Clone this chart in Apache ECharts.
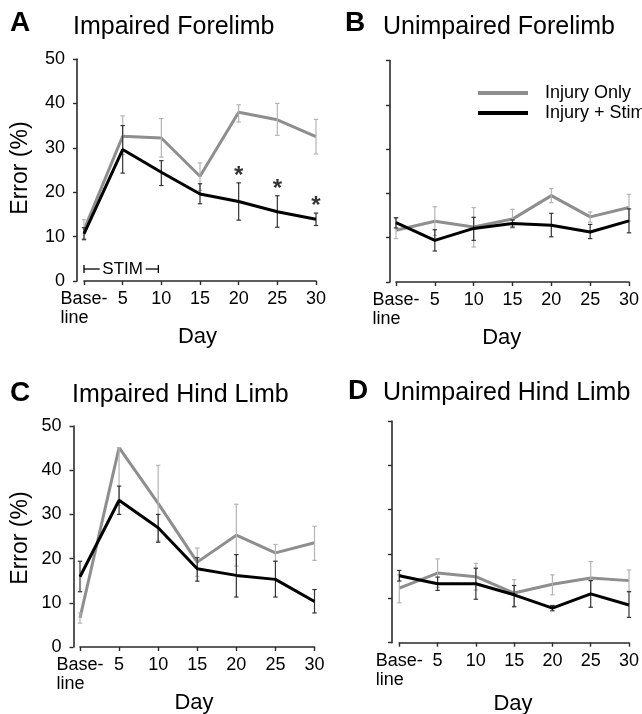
<!DOCTYPE html>
<html>
<head>
<meta charset="utf-8">
<script src="https://cdn.jsdelivr.net/npm/echarts@6/dist/echarts.min.js"></script>
<style>
  html, body { margin: 0; padding: 0; background: #fff; }
  #chart { width: 642px; height: 714px; }
</style>
</head>
<body>
<div id="chart"></div>
<script>
// ---------- data ----------
const days = ['Base-\nline', '5', '10', '15', '20', '25', '30'];
const yTicks = [0, 10, 20, 30, 40, 50];
const seriesNames = ['Injury Only', 'Injury + Stim'];

// A: Impaired Forelimb
const aOnly = [11.5, 32.6, 32.2, 23.6, 38.0, 36.3, 32.5];
const aOnlyLo = [9.6, 28.5, 27.9, 20.4, 35.8, 32.8, 28.6];
const aOnlyHi = [13.8, 37.2, 36.6, 26.6, 39.7, 40.0, 36.4];
const aStim = [10.6, 29.6, 24.5, 19.6, 17.9, 15.6, 13.9];
const aStimLo = [9.3, 24.3, 21.5, 17.4, 13.7, 12.1, 12.5];
const aStimHi = [12.0, 35.0, 27.1, 21.9, 22.1, 19.2, 15.3];
const aStars = [[4, 23.6], [5, 20.6], [6, 16.8]];

// B: Unimpaired Forelimb
const bOnly = [11.7, 13.7, 12.4, 14.2, 19.5, 14.7, 16.8];
const bOnlyLo = [9.8, 10.5, 7.9, 12.2, 17.9, 13.5, 13.8];
const bOnlyHi = [14.5, 17.0, 16.8, 16.4, 21.1, 15.8, 19.8];
const bStim = [13.4, 9.4, 12.1, 13.2, 12.8, 11.3, 13.8];
const bStimLo = [12.2, 7.0, 9.4, 12.4, 10.2, 9.8, 11.1];
const bStimHi = [14.5, 11.8, 14.6, 14.0, 15.5, 13.0, 16.5];

// C: Impaired Hind Limb
const cOnly = [6.6, 45.1, 32.5, 19.2, 25.3, 21.3, 23.6];
const cOnlyLo = [5.4, 32.0, 24.0, 16.0, 18.3, 19.4, 19.6];
const cOnlyHi = [7.7, 45.1, 41.1, 22.4, 32.3, 23.2, 27.3];
const cStim = [15.9, 33.2, 27.0, 17.7, 16.2, 15.3, 10.3];
const cStimLo = [12.5, 30.0, 23.7, 14.9, 11.3, 11.3, 7.7];
const cStimHi = [19.4, 36.4, 30.0, 20.2, 20.9, 19.4, 13.0];

// D: Unimpaired Hind Limb
const dOnly = [12.3, 15.7, 14.9, 11.2, 13.2, 14.6, 14.0];
const dOnlyLo = [9.0, 12.5, 11.9, 8.2, 10.8, 10.9, 11.6];
const dOnlyHi = [15.3, 18.9, 17.9, 14.2, 15.3, 18.3, 16.4];
const dStim = [15.1, 13.3, 13.3, 10.8, 7.8, 11.0, 8.5];
const dStimLo = [13.9, 11.8, 9.8, 8.1, 7.2, 8.0, 5.7];
const dStimHi = [16.3, 14.8, 16.8, 12.9, 8.4, 14.0, 11.5];

// STIM bracket: from category index 0 to 2 at height 2.7
const stimBracket = [[0, 2, 2.7]];

// ---------- style ----------
const FONT = "'Liberation Sans', Arial, Helvetica, sans-serif";
const GRAY = '#8e8e8e';
const GRAY_ERR = '#b4b4b4';
const BLACK = '#000000';
const BLACK_ERR = '#333333';
const AXIS = '#2a2a2a';

const panels = [
  { grid: { left: 84, top: 59, width: 232, height: 222 }, yOff: 7, yLabels: true,
    only: aOnly, onlyLo: aOnlyLo, onlyHi: aOnlyHi, stim: aStim, stimLo: aStimLo, stimHi: aStimHi },
  { grid: { left: 396, top: 60.5, width: 234.5, height: 221.5 }, yOff: 6, yLabels: false,
    only: bOnly, onlyLo: bOnlyLo, onlyHi: bOnlyHi, stim: bStim, stimLo: bStimLo, stimHi: bStimHi },
  { grid: { left: 80, top: 426, width: 234.5, height: 221 }, yOff: 6.5, yLabels: true,
    only: cOnly, onlyLo: cOnlyLo, onlyHi: cOnlyHi, stim: cStim, stimLo: cStimLo, stimHi: cStimHi },
  { grid: { left: 399.3, top: 421, width: 233.4, height: 221.7 }, yOff: 7.3, yLabels: false,
    only: dOnly, onlyLo: dOnlyLo, onlyHi: dOnlyHi, stim: dStim, stimLo: dStimLo, stimHi: dStimHi }
];

function errRender(color) {
  return function (params, api) {
    const x = api.value(0);
    const lo = api.coord([x, api.value(1)]);
    const hi = api.coord([x, api.value(2)]);
    const c = 2.2;
    const st = { stroke: color, lineWidth: 1.2 };
    return {
      type: 'group',
      children: [
        { type: 'line', shape: { x1: lo[0], y1: lo[1], x2: hi[0], y2: hi[1] }, style: st },
        { type: 'line', shape: { x1: lo[0] - c, y1: lo[1], x2: lo[0] + c, y2: lo[1] }, style: st },
        { type: 'line', shape: { x1: hi[0] - c, y1: hi[1], x2: hi[0] + c, y2: hi[1] }, style: st }
      ]
    };
  };
}

function stimRender(params, api) {
  const y = api.value(2);
  const p0 = api.coord([api.value(0), y]);
  const p1 = api.coord([api.value(1), y]);
  const mid = api.coord([(api.value(0) + api.value(1)) / 2, y]);
  const half = 23;
  const st = { stroke: '#000', lineWidth: 1.3 };
  return {
    type: 'group',
    children: [
      { type: 'line', shape: { x1: p0[0], y1: p0[1] - 4, x2: p0[0], y2: p0[1] + 4 }, style: st },
      { type: 'line', shape: { x1: p0[0], y1: p0[1], x2: mid[0] - half, y2: p0[1] }, style: st },
      { type: 'line', shape: { x1: mid[0] + half, y1: p1[1], x2: p1[0] - 3, y2: p1[1] }, style: st },
      { type: 'line', shape: { x1: p1[0] - 3, y1: p1[1] - 4, x2: p1[0] - 3, y2: p1[1] + 4 }, style: st },
      { type: 'text', style: { text: 'STIM', x: mid[0], y: mid[1], align: 'center', verticalAlign: 'middle',
          font: '17px ' + FONT, fill: '#000' } }
    ]
  };
}

const grids = [], xAxes = [], yAxes = [], series = [];
panels.forEach(function (p, i) {
  grids.push(p.grid);
  xAxes.push({
    type: 'category', gridIndex: i, data: days, boundaryGap: false,
    axisLine: { lineStyle: { color: AXIS, width: 1.6 } },
    axisTick: { show: true, length: 4, alignWithLabel: true, interval: 0, lineStyle: { color: AXIS, width: 1.4 } },
    axisLabel: {
      interval: 0, margin: 9, color: '#000', fontSize: 18, fontFamily: FONT, lineHeight: 19,
      formatter: function (v, idx) {
        if (idx === 0) { const parts = v.split('\n'); return '{b|' + parts[0] + '}\n{b|' + parts[1] + '}'; }
        return v;
      },
      rich: { b: { align: 'left', fontSize: 18, fontFamily: FONT, lineHeight: 19, color: '#000' } }
    },
    splitLine: { show: false }
  });
  yAxes.push({
    type: 'value', gridIndex: i, min: 0, max: 50, interval: 10, offset: p.yOff,
    axisLine: { show: true, lineStyle: { color: AXIS, width: 1.6 } },
    axisTick: { show: true, length: 4, lineStyle: { color: AXIS, width: 1.4 } },
    axisLabel: { show: p.yLabels, margin: 12, color: '#000', fontSize: 18, fontFamily: FONT,
      formatter: function (v) { return yTicks.indexOf(v) >= 0 ? String(v) : ''; } },
    splitLine: { show: false }
  });
  const toErr = function (lo, hi) { return lo.map(function (l, k) { return [k, l, hi[k]]; }); };
  series.push({
    name: seriesNames[0], type: 'line', xAxisIndex: i, yAxisIndex: i, data: p.only,
    symbol: 'none', z: 2, lineStyle: { color: GRAY, width: 3 }, itemStyle: { color: GRAY }, animation: false
  });
  series.push({
    name: seriesNames[0] + ' SEM', type: 'custom', xAxisIndex: i, yAxisIndex: i,
    data: toErr(p.onlyLo, p.onlyHi), encode: { x: 0, y: [1, 2] }, renderItem: errRender(GRAY_ERR), z: 3, animation: false
  });
  series.push({
    name: seriesNames[1] + ' SEM', type: 'custom', xAxisIndex: i, yAxisIndex: i,
    data: toErr(p.stimLo, p.stimHi), encode: { x: 0, y: [1, 2] }, renderItem: errRender(BLACK_ERR), z: 4, animation: false
  });
  series.push({
    name: seriesNames[1], type: 'line', xAxisIndex: i, yAxisIndex: i, data: p.stim,
    symbol: 'none', z: 5, lineStyle: { color: BLACK, width: 3 }, itemStyle: { color: BLACK }, animation: false
  });
});

series.push({
  name: 'significance', type: 'scatter', xAxisIndex: 0, yAxisIndex: 0, data: aStars,
  symbol: 'circle', symbolSize: 0, z: 6, animation: false,
  label: { show: true, position: 'inside', formatter: '*', fontSize: 24, fontWeight: 'bold', fontFamily: FONT, color: '#000' }
});
series.push({
  name: 'STIM', type: 'custom', xAxisIndex: 0, yAxisIndex: 0, data: stimBracket,
  encode: { x: [0, 1], y: 2 }, renderItem: stimRender, z: 6, animation: false
});

function txt(text, x, y, size, bold, align) {
  return { type: 'text', x: x, y: y, style: { text: text, font: (bold ? 'bold ' : '') + size + 'px ' + FONT,
    fill: '#000', align: align || 'left', verticalAlign: 'middle' } };
}
function vtxt(text, x, y, size) {
  return { type: 'text', x: x, y: y, rotation: Math.PI / 2,
    style: { text: text, font: size + 'px ' + FONT, fill: '#000', align: 'center', verticalAlign: 'middle' } };
}

const option = {
  backgroundColor: '#fff',
  animation: false,
  grid: grids, xAxis: xAxes, yAxis: yAxes, series: series,
  legend: {
    data: seriesNames, orient: 'vertical', left: 473, top: 78, itemWidth: 50, itemHeight: 4, itemGap: 0,
    icon: 'rect', selectedMode: false,
    textStyle: { fontSize: 18, fontFamily: FONT, color: '#000', lineHeight: 20, padding: [0, 0, 0, 12] }
  },
  graphic: [
    txt('A', 10, 23.5, 28, true), txt('Impaired Forelimb', 73, 26.7, 25, false),
    txt('B', 345, 23.5, 28, true), txt('Unimpaired Forelimb', 383, 26.7, 25, false),
    txt('C', 10, 393, 28, true), txt('Impaired Hind Limb', 72, 394.7, 25, false),
    txt('D', 348, 391, 28, true), txt('Unimpaired Hind Limb', 383, 393.4, 25, false),
    txt('Day', 197.5, 336.5, 22, false, 'center'), txt('Day', 501.7, 337.5, 22, false, 'center'),
    txt('Day', 194, 702.5, 22, false, 'center'), txt('Day', 513, 703.5, 22, false, 'center'),
    vtxt('Error (%)', 20.7, 168, 23), vtxt('Error (%)', 20.7, 538, 23)
  ]
};

const chart = echarts.init(document.getElementById('chart'), null, { renderer: 'canvas' });
chart.setOption(option);
</script>
</body>
</html>
